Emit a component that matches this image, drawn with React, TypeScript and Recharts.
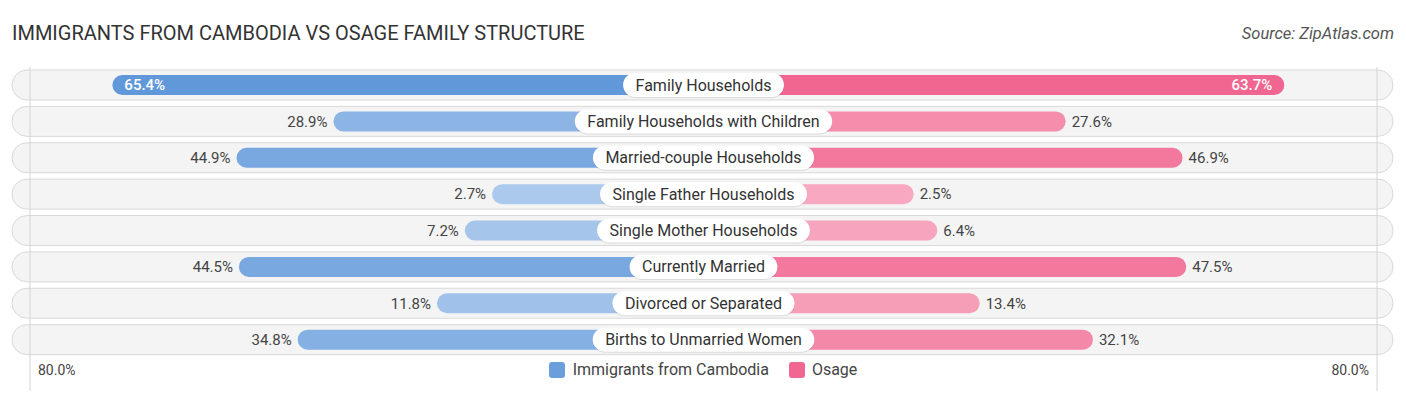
import { BarChart, Bar, XAxis, YAxis, LabelList, ReferenceLine } from 'recharts';

const categories = [
  'Family Households',
  'Family Households with Children',
  'Married-couple Households',
  'Single Father Households',
  'Single Mother Households',
  'Currently Married',
  'Divorced or Separated',
  'Births to Unmarried Women',
];
const cambodia = [65.4, 28.9, 44.9, 2.7, 7.2, 44.5, 11.8, 34.8];
const osage = [63.7, 27.6, 46.9, 2.5, 6.4, 47.5, 13.4, 32.1];
const axisMax = 80;

// bars start under the centre label, so every bar is pushed out by this much
const OFFSET = 32.2;
const EDGE = 111.2;

const FONT = 'Roboto, "Noto Sans", Arial, sans-serif';

const rows = categories.map((name, i) => ({
  name,
  cam: cambodia[i],
  osa: osage[i],
  camBar: -(cambodia[i] + OFFSET),
  osaBar: osage[i] + OFFSET,
}));

function mix(a: string, b: string, t: number) {
  const pa = [1, 3, 5].map((k) => parseInt(a.slice(k, k + 2), 16));
  const pb = [1, 3, 5].map((k) => parseInt(b.slice(k, k + 2), 16));
  const c = pa.map((v, k) => Math.round(v + (pb[k] - v) * t));
  return `rgb(${c[0]},${c[1]},${c[2]})`;
}

const blueColor = (v: number) => mix('#aecbed', '#6198da', Math.min(1, v / 65));
const pinkColor = (v: number) => mix('#f8abc3', '#f0658f', Math.min(1, v / 65));

let ctx: CanvasRenderingContext2D | null = null;
function textWidth(s: string, font: string) {
  if (!ctx && typeof document !== 'undefined') ctx = document.createElement('canvas').getContext('2d');
  if (!ctx) return s.length * 8;
  ctx.font = font;
  return ctx.measureText(s).width;
}

function PillShape(props: any) {
  const { x, y, width, height, fill } = props;
  const left = Math.min(x, x + width);
  const w = Math.abs(width);
  return <rect x={left} y={y} width={w} height={height} rx={height / 2} ry={height / 2} fill={fill} />;
}

function RowBackground(props: any) {
  const { x, y, width, height } = props;
  const bx = x - 18;
  const bw = width + 34;
  const by = y - 5;
  const bh = height + 10;
  return (
    <g>
      <rect x={bx} y={by} width={bw} height={bh} rx={bh / 2} fill="#f4f4f4" stroke="#d9d9d9" strokeWidth={1} />
    </g>
  );
}

function ValueLabel(side: 'left' | 'right') {
  return (props: any) => {
    const { x, y, width, height, value } = props;
    const left = Math.min(x, x + width);
    const right = Math.max(x, x + width);
    const cy = y + height / 2;
    const inside = value > 60;
    const txt = `${value.toFixed(1)}%`;
    let tx: number;
    let anchor: 'start' | 'end';
    if (side === 'left') {
      tx = inside ? left + 12 : left - 6;
      anchor = inside ? 'start' : 'end';
    } else {
      tx = inside ? right - 12 : right + 6;
      anchor = inside ? 'end' : 'start';
    }
    return (
      <text
        x={tx}
        y={cy}
        dy="0.35em"
        textAnchor={anchor}
        fontSize={15}
        fontFamily={FONT}
        fontWeight={inside ? 500 : 400}
        fill={inside ? '#ffffff' : '#444444'}
      >
        {txt}
      </text>
    );
  };
}

function CenterLabel(props: any) {
  const { x, y, height, value } = props;
  const cy = y + height / 2;
  const w = textWidth(value, `16px ${FONT}`) + 25;
  const h = 24;
  return (
    <g>
      <rect x={x - w / 2} y={cy - h / 2 + 1} width={w} height={h} rx={h / 2} fill="#000" opacity={0.1} />
      <rect x={x - w / 2} y={cy - h / 2} width={w} height={h} rx={h / 2} fill="#ffffff" />
      <text x={x} y={cy} dy="0.35em" textAnchor="middle" fontSize={16} fontFamily={FONT} fill="#333333">
        {value}
      </text>
    </g>
  );
}

function EdgeTick(props: any) {
  const { x, payload } = props;
  const neg = payload.value < 0;
  return (
    <text
      x={neg ? x + 8 : x - 8}
      y={370}
      dy="0.35em"
      textAnchor={neg ? 'start' : 'end'}
      fontSize={14}
      fontFamily={FONT}
      fill="#444444"
    >
      {`${axisMax.toFixed(1)}%`}
    </text>
  );
}

export default function App() {
  return (
    <div style={{ position: 'absolute', left: 0, top: 0, width: 1406, height: 395, background: '#fff', fontFamily: FONT }}>
      <div style={{ position: 'absolute', left: 12, top: 21, fontSize: 20, color: '#333', letterSpacing: 0 }}>
        IMMIGRANTS FROM CAMBODIA VS OSAGE FAMILY STRUCTURE
      </div>
      <div style={{ position: 'absolute', right: 12, top: 24, fontSize: 16.5, color: '#555', fontStyle: 'italic' }}>
        Source: ZipAtlas.com
      </div>
      <BarChart
        width={1406}
        height={395}
        data={rows}
        layout="vertical"
        stackOffset="sign"
        barSize={20}
        margin={{ top: 67, right: 29, bottom: 4, left: 30 }}
      >
        <XAxis
          type="number"
          domain={[-EDGE, EDGE]}
          ticks={[-EDGE, EDGE]}
          axisLine={false}
          tickLine={{ stroke: '#d4d4d4' }}
          tickSize={33}
          height={33}
          tick={<EdgeTick />}
          allowDataOverflow
        />
        <YAxis type="category" dataKey="name" hide />
        <Bar
          dataKey="camBar"
          stackId="a"
          isAnimationActive={false}
          background={<RowBackground />}
          shape={(p: any) => <PillShape {...p} fill={blueColor(p.payload.cam)} />}
        >
          <LabelList dataKey="cam" content={ValueLabel('left')} />
        </Bar>
        <Bar
          dataKey="osaBar"
          stackId="a"
          isAnimationActive={false}
          shape={(p: any) => <PillShape {...p} fill={pinkColor(p.payload.osa)} />}
        >
          <LabelList dataKey="osa" content={ValueLabel('right')} />
          <LabelList dataKey="name" content={<CenterLabel />} />
        </Bar>
        <ReferenceLine x={-EDGE} stroke="#d4d4d4" />
        <ReferenceLine x={EDGE} stroke="#d4d4d4" />
      </BarChart>
      <div
        style={{
          position: 'absolute',
          top: 361,
          left: 0,
          width: 1406,
          display: 'flex',
          justifyContent: 'center',
          gap: 20,
          fontSize: 16,
          color: '#444',
          lineHeight: '18px',
        }}
      >
        <span style={{ display: 'flex', alignItems: 'center', gap: 8 }}>
          <span style={{ width: 16, height: 16, borderRadius: 3, background: '#6a9fdc', display: 'inline-block' }} />
          Immigrants from Cambodia
        </span>
        <span style={{ display: 'flex', alignItems: 'center', gap: 7 }}>
          <span style={{ width: 16, height: 16, borderRadius: 3, background: '#f06792', display: 'inline-block' }} />
          Osage
        </span>
      </div>
    </div>
  );
}
